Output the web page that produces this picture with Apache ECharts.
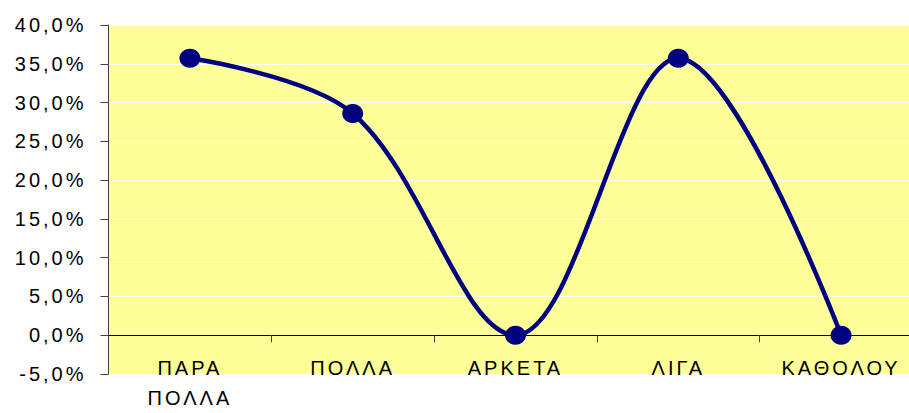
<!DOCTYPE html>
<html>
<head>
<meta charset="utf-8">
<script src="https://cdn.jsdelivr.net/npm/echarts@6/dist/echarts.min.js"></script>
<style>
  html, body { margin: 0; padding: 0; background: #ffffff; }
  #chart { width: 909px; height: 413px; }
  #chart text { letter-spacing: 3px; }
</style>
</head>
<body>
<div id="chart"></div>
<script>
// Answer categories (Greek) and the share of responses for each, in percent
const categories = ['ΠΑΡΑ\nΠΟΛΛΑ', 'ΠΟΛΛΑ', 'ΑΡΚΕΤΑ', 'ΛΙΓΑ', 'ΚΑΘΟΛΟΥ'];
const shares = [35.7, 28.6, 0, 35.7, 0];
// Value axis range and step, in percent
const yMin = -5;
const yMax = 40;
const yStep = 5;

const fmtPercent = v => v.toFixed(1).replace('.', ',') + '%';

const chart = echarts.init(document.getElementById('chart'), null, { renderer: 'svg' });

const textStyle = {
  fontFamily: '"Liberation Sans", Arial, sans-serif',
  fontSize: 20,
  color: '#000000'
};

chart.setOption({
  backgroundColor: '#ffffff',
  animation: false,
  grid: {
    left: 108.5,
    right: -13.5,
    top: 25,
    bottom: 39,
    containLabel: false,
    outerBoundsMode: 'none',
    show: true,
    backgroundColor: '#FFFF99',
    borderWidth: 0
  },
  xAxis: {
    type: 'category',
    data: categories,
    boundaryGap: true,
    axisLine: { onZero: true, lineStyle: { color: '#000000', width: 1 } },
    axisTick: { show: true, inside: false, length: 7, lineStyle: { color: '#404040' } },
    axisLabel: Object.assign({}, textStyle, {
      margin: -21,
      lineHeight: 30,
      interval: 0
    }),
    splitLine: { show: false }
  },
  yAxis: {
    type: 'value',
    min: yMin,
    max: yMax,
    interval: yStep,
    axisLine: { show: true, lineStyle: { color: '#404040', width: 1 } },
    axisTick: { show: true, inside: false, length: 8, lineStyle: { color: '#404040' } },
    axisLabel: Object.assign({}, textStyle, {
      margin: 22,
      formatter: fmtPercent
    }),
    splitLine: { show: true, lineStyle: { color: '#ffffff', width: 1 } }
  },
  series: [{
    type: 'line',
    data: shares,
    smooth: 0.35,
    symbol: 'circle',
    symbolSize: [21, 19],
    showAllSymbol: true,
    lineStyle: { color: '#000080', width: 4.5 },
    itemStyle: { color: '#000080', borderWidth: 0 },
    z: 3
  }]
});
</script>
</body>
</html>
